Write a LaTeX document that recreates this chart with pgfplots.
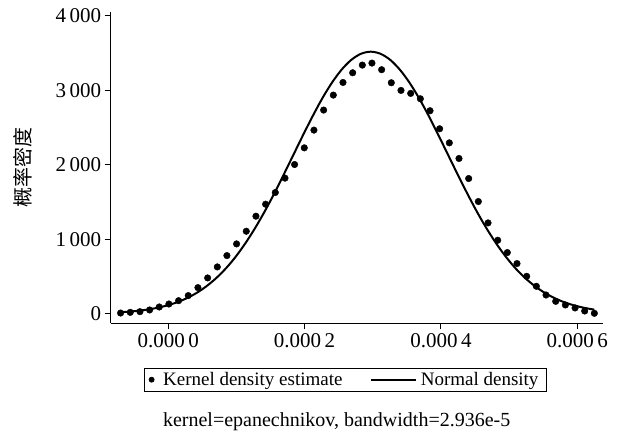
\documentclass[border=0pt]{standalone}
\usepackage{fontspec}
\setmainfont{Liberation Serif}
\newfontfamily\cjk{Noto Sans CJK SC}
\usepackage{pgfplots}
\pgfplotsset{compat=1.18}
\pgfplotsset{
  dotleg/.style={legend image code/.code={\path[draw=none] (-2.5pt,0pt) -- (8.5pt,0pt);\draw[##1, mark size=2.5pt] plot coordinates {(0pt,0pt)};}},
  lineleg/.style={legend image code/.code={\draw[##1, line width=1.6pt] (0pt,0pt) -- (45pt,0pt);\path[draw=none] (46.5pt,0pt);}},
}
\begin{document}
\begin{tikzpicture}
\useasboundingbox (0,0) rectangle (618pt,436pt);
\begin{axis}[
  at={(110.7pt,112.7pt)}, anchor=south west,
  scale only axis, width=492.3pt, height=311.3pt,
  xmin=-0.845, xmax=6.378, ymin=-130, ymax=4050,
  axis lines=left, axis line style={-, line width=1.1pt},
  tick align=outside, major tick length=6pt,
  every tick/.style={black, line width=1pt},
  xtick={0,2,4,6}, xticklabels={0.000\,0,0.000\,2,0.000\,4,0.000\,6},
  ytick={0,1000,2000,3000,4000}, yticklabels={0,1\,000,2\,000,3\,000,4\,000},
  tick label style={font=\fontsize{21}{21}\selectfont},
  xticklabel style={yshift=-1pt},
  legend columns=2,
  legend style={at={(0.4765,-0.1812)}, anchor=center, draw=black, line width=0.8pt,
    font=\fontsize{19}{19}\selectfont, inner xsep=5pt, inner ysep=2pt,
    nodes={inner xsep=3pt},
    /tikz/every even column/.append style={column sep=25pt}},
]
\addplot[only marks, mark=*, mark size=3.3pt, black, dotleg] coordinates {
(-0.700,8) (-0.558,17) (-0.416,26) (-0.274,49) (-0.133,89) (0.009,129) (0.151,174) (0.293,242)
(0.435,349) (0.577,479) (0.719,627) (0.860,779) (1.002,936) (1.144,1106) (1.286,1308) (1.428,1469)
(1.570,1626) (1.712,1819) (1.853,2002) (1.995,2226) (2.137,2464) (2.279,2733) (2.421,2934) (2.563,3104)
(2.705,3234) (2.847,3337) (2.988,3364) (3.130,3275) (3.272,3100) (3.414,2997) (3.556,2957) (3.698,2885)
(3.840,2724) (3.981,2482) (4.123,2293) (4.265,2083) (4.407,1814) (4.549,1505) (4.691,1218) (4.833,985)
(4.974,820) (5.116,672) (5.258,501) (5.400,367) (5.542,250) (5.684,165) (5.826,116) (5.968,76)
(6.109,35) (6.251,4)
};
\addlegendentry{Kernel density estimate}
\addplot[black, line width=2pt, smooth, lineleg] coordinates {
(-0.700,18.7) (-0.574,26.6) (-0.432,39.1) (-0.290,56.4) (-0.149,80.2) (-0.007,112.2) (0.135,154.5)
(0.277,209.6) (0.419,279.8) (0.560,367.8) (0.702,476.0) (0.844,606.4) (0.986,760.6) (1.127,939.3)
(1.269,1141.8) (1.411,1366.6) (1.553,1610.2) (1.694,1867.9) (1.836,2133.2) (1.978,2398.4) (2.120,2654.8)
(2.261,2893.0) (2.403,3103.7) (2.545,3278.2) (2.687,3408.8) (2.828,3489.6) (2.970,3517) (3.112,3489.6)
(3.254,3408.8) (3.395,3278.2) (3.537,3103.7) (3.679,2893.0) (3.821,2654.8) (3.962,2398.4) (4.104,2133.2)
(4.246,1867.9) (4.388,1610.2) (4.529,1366.6) (4.671,1141.8) (4.813,939.3) (4.955,760.6) (5.096,606.4)
(5.238,476.0) (5.380,367.8) (5.522,279.8) (5.663,209.6) (5.805,154.5) (5.947,112.2) (6.089,80.2)
(6.230,56.4) (6.250,53.7)
};
\addlegendentry{Normal density}
\end{axis}
\node[rotate=90, font=\cjk\fontsize{20}{20}\selectfont] at (23pt,268.5pt) {概率密度};
\node[anchor=base, font=\fontsize{20}{20}\selectfont] at (336.7pt,9.3pt) {kernel=epanechnikov, bandwidth=2.936e-5};
\end{tikzpicture}
\end{document}
